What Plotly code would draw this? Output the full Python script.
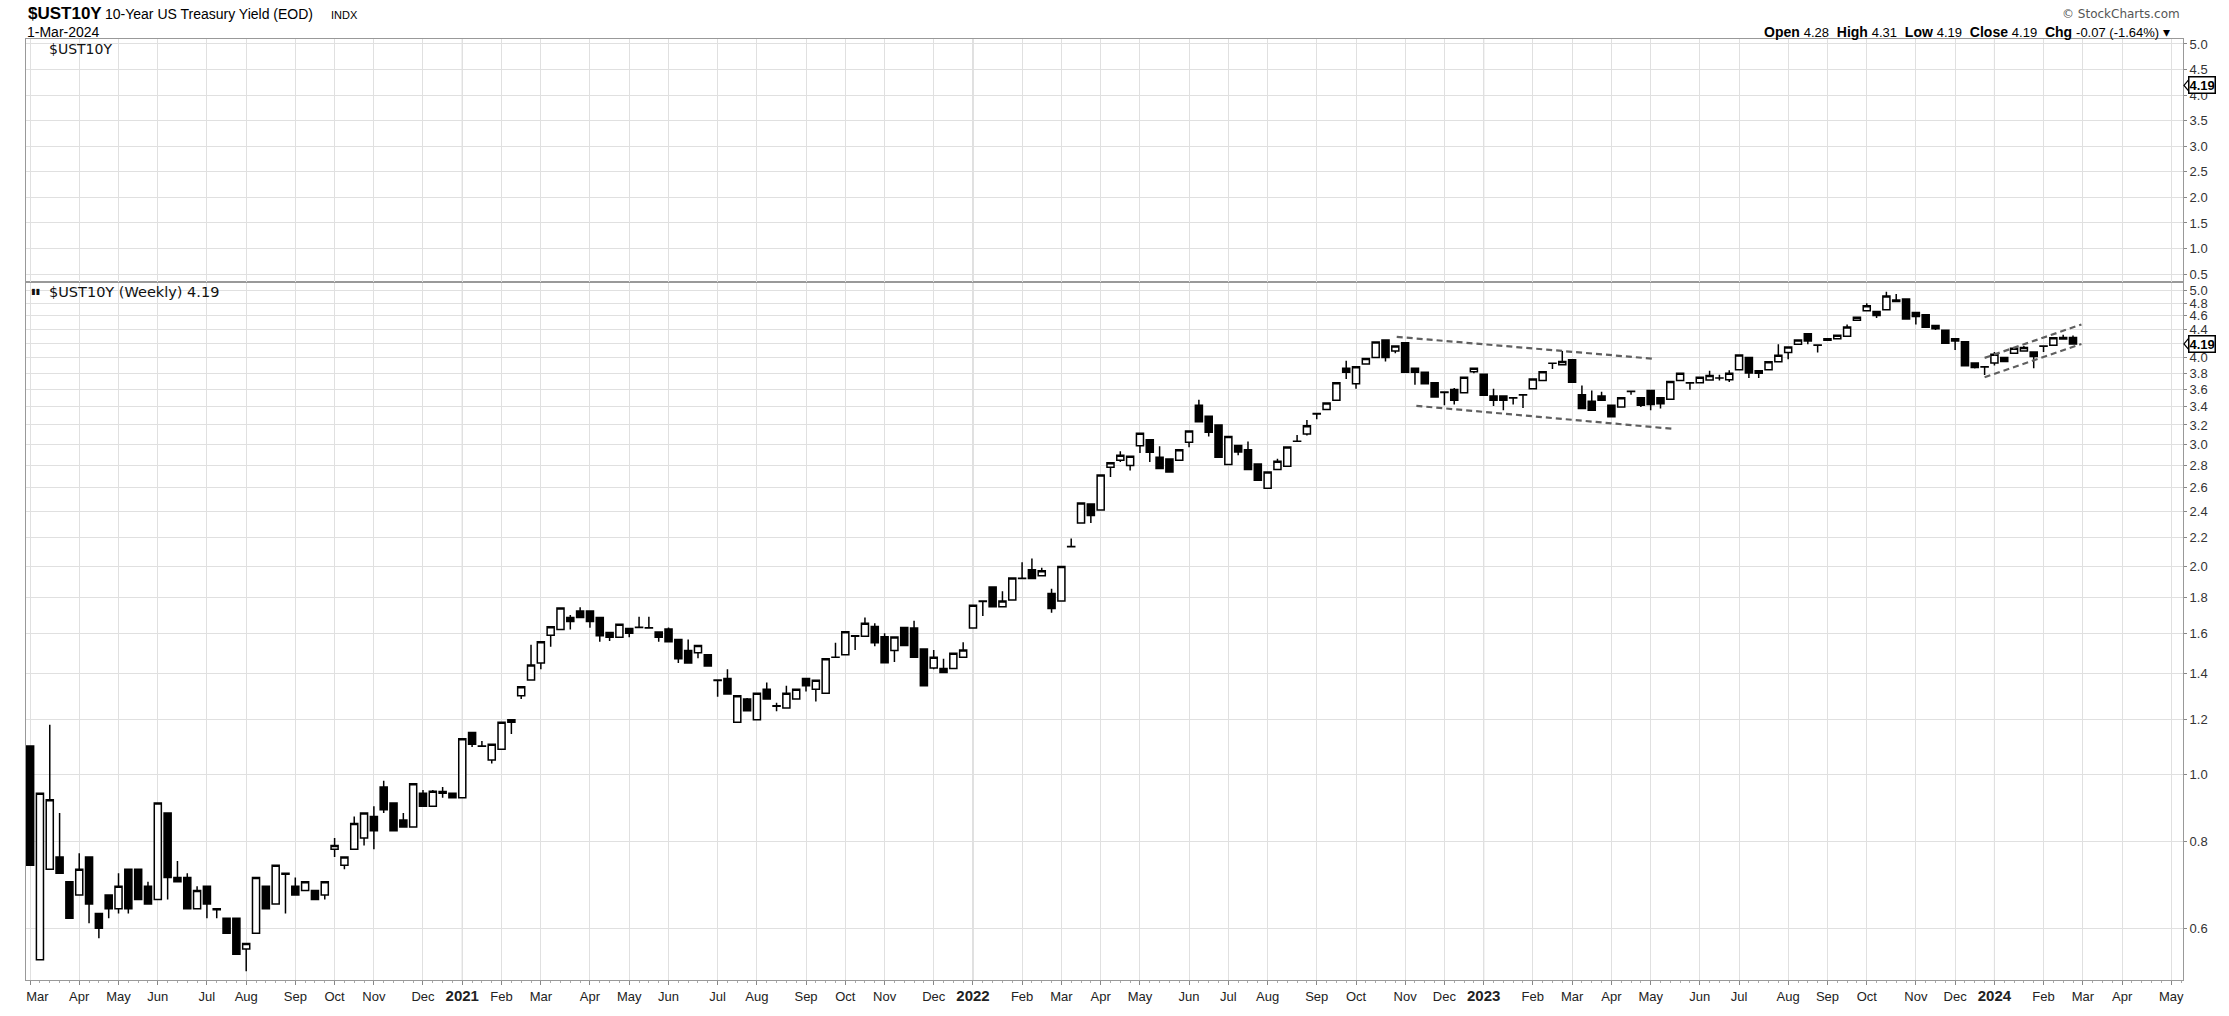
import math
import pandas as pd
import plotly.graph_objects as go

# ---------------- data ----------------
first_week = "2020-03-06"   # Friday of first weekly bar

opens = [1.10, 0.54, 0.73, 0.76, 0.70, 0.67, 0.76, 0.63, 0.67, 0.64,
         0.73, 0.73, 0.69, 0.66, 0.88, 0.71, 0.71, 0.64, 0.69, 0.64,
         0.62, 0.62, 0.56, 0.59, 0.69, 0.65, 0.72, 0.69, 0.68, 0.68,
         0.67, 0.78, 0.74, 0.78, 0.81, 0.87, 0.96, 0.91, 0.86, 0.84,
         0.94, 0.90, 0.945, 0.94, 0.926, 1.15, 1.10, 1.05, 1.088, 1.19,
         1.30, 1.37, 1.45, 1.59, 1.62, 1.686, 1.723, 1.723, 1.686, 1.605,
         1.579, 1.626, 1.631, 1.63, 1.607, 1.623, 1.567, 1.511, 1.50, 1.49,
         1.37, 1.377, 1.19, 1.286, 1.20, 1.328, 1.257, 1.248, 1.286, 1.377,
         1.328, 1.311, 1.478, 1.49, 1.587, 1.584, 1.637, 1.582, 1.511, 1.631,
         1.628, 1.519, 1.426, 1.423, 1.423, 1.478, 1.628, 1.781, 1.867, 1.748,
         1.787, 1.92, 1.976, 1.937, 1.826, 1.781, 2.134, 2.309, 2.46, 2.412,
         2.781, 2.846, 2.796, 2.986, 3.045, 2.874, 2.858, 2.846, 3.022, 3.416,
         3.295, 3.199, 2.805, 2.989, 2.947, 2.811, 2.593, 2.76, 2.79, 3.03,
         3.106, 3.324, 3.368, 3.473, 3.863, 3.669, 3.918, 4.005, 4.244, 4.093,
         4.207, 3.863, 3.812, 3.681, 3.57, 3.601, 3.562, 3.82, 3.787, 3.523,
         3.523, 3.504, 3.539, 3.609, 3.709, 3.93, 3.909, 3.974, 3.539, 3.462,
         3.523, 3.416, 3.398, 3.58, 3.504, 3.589, 3.504, 3.485, 3.709, 3.681,
         3.681, 3.717, 3.741, 3.72, 3.845, 4.005, 3.80, 3.845, 3.948, 4.071,
         4.184, 4.333, 4.175, 4.262, 4.262, 4.30, 4.532, 4.678, 4.668, 4.694,
         4.85, 4.866, 4.653, 4.617, 4.453, 4.386, 4.262, 4.221, 3.931, 3.884,
         3.931, 4.005, 4.062, 4.093, 4.08, 4.16, 4.17, 4.28, 4.28]

highs = [1.10, 0.94, 1.18, 0.88, 0.70, 0.77, 0.76, 0.63, 0.67, 0.72,
         0.73, 0.73, 0.70, 0.91, 0.88, 0.75, 0.72, 0.69, 0.69, 0.64,
         0.62, 0.62, 0.57, 0.71, 0.69, 0.74, 0.72, 0.71, 0.70, 0.68,
         0.70, 0.81, 0.76, 0.87, 0.88, 0.90, 0.98, 0.91, 0.88, 0.97,
         0.95, 0.95, 0.96, 0.94, 1.127, 1.15, 1.118, 1.106, 1.19, 1.20,
         1.34, 1.54, 1.556, 1.635, 1.74, 1.70, 1.745, 1.723, 1.686, 1.605,
         1.649, 1.626, 1.69, 1.69, 1.61, 1.631, 1.567, 1.567, 1.536, 1.49,
         1.37, 1.42, 1.30, 1.29, 1.311, 1.359, 1.27, 1.344, 1.328, 1.377,
         1.369, 1.47, 1.55, 1.608, 1.59, 1.686, 1.655, 1.60, 1.58, 1.631,
         1.668, 1.519, 1.514, 1.47, 1.498, 1.553, 1.756, 1.785, 1.867, 1.84,
         1.923, 2.027, 2.053, 1.99, 1.856, 1.998, 2.193, 2.468, 2.46, 2.709,
         2.821, 2.931, 2.883, 3.113, 3.05, 2.98, 2.858, 2.947, 3.137, 3.481,
         3.295, 3.199, 3.079, 2.99, 3.029, 2.811, 2.736, 2.86, 2.973, 3.096,
         3.252, 3.33, 3.443, 3.681, 3.961, 3.884, 3.991, 4.216, 4.244, 4.161,
         4.207, 3.863, 3.812, 3.681, 3.57, 3.62, 3.75, 3.863, 3.787, 3.609,
         3.523, 3.51, 3.545, 3.729, 3.82, 3.935, 4.093, 3.974, 3.648, 3.589,
         3.575, 3.416, 3.504, 3.585, 3.504, 3.589, 3.504, 3.697, 3.81, 3.685,
         3.75, 3.833, 3.78, 3.84, 4.04, 4.005, 3.833, 3.948, 4.184, 4.148,
         4.244, 4.333, 4.18, 4.262, 4.314, 4.468, 4.577, 4.797, 4.668, 4.985,
         4.947, 4.866, 4.653, 4.617, 4.453, 4.386, 4.262, 4.221, 3.931, 3.89,
         4.08, 4.01, 4.13, 4.16, 4.08, 4.165, 4.276, 4.32, 4.31]

lows = [0.74, 0.54, 0.73, 0.72, 0.62, 0.67, 0.61, 0.58, 0.62, 0.63,
        0.63, 0.66, 0.65, 0.66, 0.66, 0.70, 0.64, 0.64, 0.62, 0.62,
        0.59, 0.55, 0.52, 0.59, 0.64, 0.65, 0.63, 0.67, 0.68, 0.66,
        0.66, 0.76, 0.73, 0.78, 0.79, 0.78, 0.88, 0.83, 0.84, 0.84,
        0.90, 0.90, 0.926, 0.926, 0.926, 1.096, 1.097, 1.038, 1.088, 1.145,
        1.286, 1.37, 1.42, 1.53, 1.62, 1.62, 1.686, 1.63, 1.556, 1.56,
        1.579, 1.579, 1.63, 1.628, 1.556, 1.556, 1.449, 1.449, 1.473, 1.435,
        1.296, 1.308, 1.19, 1.237, 1.20, 1.286, 1.235, 1.248, 1.286, 1.318,
        1.275, 1.311, 1.475, 1.49, 1.514, 1.584, 1.533, 1.451, 1.455, 1.536,
        1.478, 1.344, 1.42, 1.404, 1.423, 1.478, 1.628, 1.695, 1.748, 1.748,
        1.787, 1.918, 1.92, 1.937, 1.714, 1.781, 2.13, 2.309, 2.309, 2.412,
        2.691, 2.83, 2.75, 2.915, 2.83, 2.769, 2.736, 2.846, 2.97, 3.235,
        3.079, 2.874, 2.805, 2.893, 2.76, 2.662, 2.593, 2.76, 2.79, 3.028,
        3.09, 3.26, 3.368, 3.473, 3.73, 3.609, 3.918, 4.005, 3.952, 4.062,
        3.812, 3.657, 3.669, 3.511, 3.416, 3.424, 3.562, 3.80, 3.531, 3.409,
        3.361, 3.424, 3.387, 3.609, 3.70, 3.854, 3.909, 3.689, 3.38, 3.361,
        3.473, 3.288, 3.398, 3.539, 3.398, 3.361, 3.38, 3.485, 3.70, 3.597,
        3.681, 3.717, 3.709, 3.69, 3.845, 3.741, 3.74, 3.845, 3.948, 3.983,
        4.184, 4.184, 4.071, 4.24, 4.262, 4.30, 4.532, 4.678, 4.567, 4.694,
        4.824, 4.552, 4.468, 4.429, 4.39, 4.198, 4.106, 3.896, 3.86, 3.779,
        3.90, 3.952, 4.062, 4.093, 3.863, 4.08, 4.17, 4.26, 4.19]

closes = [0.74, 0.94, 0.92, 0.72, 0.62, 0.73, 0.65, 0.60, 0.64, 0.69,
          0.64, 0.66, 0.65, 0.91, 0.71, 0.70, 0.64, 0.68, 0.65, 0.638,
          0.59, 0.55, 0.57, 0.71, 0.64, 0.74, 0.718, 0.67, 0.70, 0.66,
          0.70, 0.79, 0.76, 0.85, 0.88, 0.83, 0.89, 0.83, 0.84, 0.97,
          0.90, 0.946, 0.94, 0.926, 1.127, 1.106, 1.099, 1.106, 1.19, 1.20,
          1.34, 1.44, 1.556, 1.635, 1.74, 1.664, 1.686, 1.664, 1.587, 1.579,
          1.649, 1.60, 1.632, 1.629, 1.579, 1.556, 1.470, 1.449, 1.536, 1.435,
          1.368, 1.308, 1.30, 1.237, 1.311, 1.286, 1.255, 1.311, 1.328, 1.344,
          1.369, 1.47, 1.477, 1.608, 1.585, 1.655, 1.55, 1.451, 1.58, 1.536,
          1.478, 1.344, 1.478, 1.404, 1.498, 1.514, 1.756, 1.778, 1.748, 1.781,
          1.923, 1.921, 1.92, 1.97, 1.737, 1.998, 2.136, 2.468, 2.367, 2.709,
          2.821, 2.893, 2.883, 3.113, 2.921, 2.769, 2.736, 2.947, 3.137, 3.235,
          3.123, 2.874, 3.079, 2.924, 2.76, 2.662, 2.736, 2.837, 2.973, 3.031,
          3.192, 3.32, 3.443, 3.681, 3.812, 3.884, 3.991, 4.216, 4.005, 4.161,
          3.812, 3.812, 3.669, 3.511, 3.565, 3.473, 3.75, 3.863, 3.531, 3.473,
          3.473, 3.50, 3.535, 3.729, 3.82, 3.928, 3.952, 3.689, 3.38, 3.361,
          3.473, 3.288, 3.504, 3.578, 3.416, 3.424, 3.435, 3.697, 3.799, 3.678,
          3.75, 3.771, 3.74, 3.799, 4.04, 3.804, 3.833, 3.948, 4.035, 4.148,
          4.244, 4.23, 4.172, 4.24, 4.314, 4.434, 4.577, 4.756, 4.607, 4.914,
          4.824, 4.552, 4.592, 4.429, 4.405, 4.198, 4.23, 3.896, 3.875, 3.88,
          4.049, 3.952, 4.13, 4.14, 4.018, 4.158, 4.276, 4.26, 4.19]

# hand-drawn trend channels (date, yield)
chan1_upper_dates = ["2022-11-05", "2023-05-06"]
chan1_upper_vals = [4.29, 3.99]
chan1_lower_dates = ["2022-11-19", "2023-05-20"]
chan1_lower_vals = [3.41, 3.16]
chan2_upper_dates = ["2023-12-29", "2024-03-07"]
chan2_upper_vals = [4.00, 4.47]
chan2_lower_dates = ["2023-12-29", "2024-03-07"]
chan2_lower_vals = [3.75, 4.19]

upper_ticks = [0.5, 1.0, 1.5, 2.0, 2.5, 3.0, 3.5, 4.0, 4.5, 5.0]
lower_ticks = [0.6, 0.8, 1.0, 1.2, 1.4, 1.6, 1.8, 2.0, 2.2, 2.4, 2.6, 2.8,
               3.0, 3.2, 3.4, 3.6, 3.8, 4.0, 4.2, 4.4, 4.6, 4.8, 5.0]
month_abbr = ["Jan", "Feb", "Mar", "Apr", "May", "Jun", "Jul", "Aug",
              "Sep", "Oct", "Nov", "Dec"]
monday_holidays = ["2021-05-31"]
axis_weeks = 220   # weekly slots on the axis (data + blank space to May 2024)

# ---------------- derived ----------------
t0 = pd.Timestamp(first_week)
n = len(closes)
idx = list(range(n))
last = closes[-1]


def date_to_idx(d):
    return (pd.Timestamp(d) - t0).days / 7.0


hol = set(pd.to_datetime(monday_holidays))
tickvals, ticktext, year_idx = [], [], []
prev = None
for i in range(axis_weeks):
    day = t0 + pd.Timedelta(weeks=i) - pd.Timedelta(days=4)
    if day in hol:
        day = day + pd.Timedelta(days=1)
    key = (day.year, day.month)
    if key != prev:
        tickvals.append(i)
        if day.month == 1:
            ticktext.append(f"<b><span style='font-size:15px'>{day.year}</span></b>")
            year_idx.append(i)
        elif prev is None:
            ticktext.append("&nbsp;&nbsp;&nbsp;&nbsp;" + month_abbr[day.month - 1])
        else:
            ticktext.append(month_abbr[day.month - 1])
    prev = key

# lower-panel labels: the one hidden under the last-value tag is left blank
lower_text = ["" if abs(v - last) < 0.05 else f"{v:.1f}" for v in lower_ticks]

W, H = 2229, 1016
ML, MR, MT, MB = 24, 46, 39, 24
PW, PH = W - ML - MR, H - MT - MB


def px_x(px):
    return (px - ML) / PW


def px_y(py):
    return (H - MB - py) / PH


split = px_y(285)

GRID = "#e0e0e0"
FRAME = "#999999"
TICKFONT = dict(family="Liberation Sans, Arial, sans-serif", size=13, color="#333")

fig = go.Figure()

fig.add_trace(go.Scatter(
    x=[idx[-1]], y=[last], mode="markers", marker=dict(opacity=0),
    xaxis="x2", yaxis="y", showlegend=False, hoverinfo="skip"))

fig.add_trace(go.Candlestick(
    x=idx, open=opens, high=highs, low=lows, close=closes,
    xaxis="x", yaxis="y2", showlegend=False, whiskerwidth=0,
    increasing=dict(line=dict(color="black", width=1.5), fillcolor="white"),
    decreasing=dict(line=dict(color="black", width=1.5), fillcolor="black")))

for dts, vals in [(chan1_upper_dates, chan1_upper_vals),
                  (chan1_lower_dates, chan1_lower_vals),
                  (chan2_upper_dates, chan2_upper_vals),
                  (chan2_lower_dates, chan2_lower_vals)]:
    fig.add_trace(go.Scatter(
        x=[date_to_idx(d) for d in dts], y=vals, mode="lines",
        line=dict(color="#5f5f5f", width=2.2, dash="6px,4px"),
        xaxis="x", yaxis="y2", showlegend=False, hoverinfo="skip"))

xr = [-0.42, 219.2]
common_x = dict(range=xr, tickmode="array", tickvals=tickvals, showgrid=True,
                gridcolor=GRID, gridwidth=1, zeroline=False, showline=True,
                linecolor=FRAME, linewidth=1, mirror=True)

fig.update_layout(
    width=W, height=H, margin=dict(l=ML, r=MR, t=MT, b=MB),
    paper_bgcolor="white", plot_bgcolor="white", showlegend=False,
    hovermode=False, boxgap=0.28, boxgroupgap=0.0,
    xaxis=dict(**common_x, domain=[0, 1], anchor="y2", ticktext=ticktext,
               tickfont=dict(family="Liberation Sans, Arial, sans-serif", size=13, color="#222"),
               ticks="outside", ticklen=4, tickcolor="#888",
               rangeslider=dict(visible=False),
               minor=dict(tickmode="array", tickvals=list(range(axis_weeks)),
                          ticks="outside", ticklen=2, tickcolor="#aaa", showgrid=False)),
    xaxis2=dict(**common_x, domain=[0, 1], anchor="y", matches="x",
                showticklabels=False, ticks=""),
    yaxis=dict(domain=[split, 1], anchor="x2", side="right",
               range=[0.348, 5.097], tickmode="array", tickvals=upper_ticks,
               ticktext=[f"{v:.1f}" for v in upper_ticks], tickfont=TICKFONT,
               ticks="outside", ticklen=3, tickcolor="#888",
               showgrid=True, gridcolor=GRID, zeroline=False,
               showline=True, linecolor=FRAME, mirror=True),
    yaxis2=dict(domain=[0, split], anchor="x", side="right", type="log",
                range=[math.log10(0.505), math.log10(5.15)], tickmode="array",
                tickvals=lower_ticks, ticktext=lower_text,
                tickfont=TICKFONT, ticks="outside", ticklen=3, tickcolor="#888",
                showgrid=True, gridcolor=GRID, zeroline=False,
                showline=True, linecolor=FRAME, mirror=True),
)

# darker year separators
for yi in year_idx:
    fig.add_shape(type="line", xref="x", yref="paper", x0=yi, x1=yi, y0=0, y1=1,
                  line=dict(color="#c2c2c2", width=1), layer="below")

# header
ann = []
ann.append(dict(x=px_x(24), y=px_y(13), xref="paper", yref="paper", xanchor="left",
                yanchor="middle", showarrow=False, text="<b>$UST10Y</b>",
                font=dict(family="Liberation Sans, Arial", size=17, color="#000")))
ann.append(dict(x=px_x(101), y=px_y(14), xref="paper", yref="paper", xanchor="left",
                yanchor="middle", showarrow=False, text="10-Year US Treasury Yield (EOD)",
                font=dict(family="Liberation Sans, Arial", size=14, color="#000")))
ann.append(dict(x=px_x(327), y=px_y(15), xref="paper", yref="paper", xanchor="left",
                yanchor="middle", showarrow=False, text="INDX",
                font=dict(family="Liberation Sans, Arial", size=11, color="#000")))
ann.append(dict(x=px_x(23), y=px_y(32), xref="paper", yref="paper", xanchor="left",
                yanchor="middle", showarrow=False, text="1-Mar-2024",
                font=dict(family="Liberation Sans, Arial", size=14, color="#000")))
ann.append(dict(x=px_x(2182), y=px_y(14), xref="paper", yref="paper", xanchor="right",
                yanchor="middle", showarrow=False, text="© StockCharts.com",
                font=dict(family="DejaVu Sans, Verdana", size=12, color="#555")))

chg = closes[-1] - closes[-2]
pct = chg / closes[-2] * 100
vs = "<span style='font-size:13px'>"
ohlc_txt = (f"<b>Open</b> {vs}{opens[-1]:.2f}</span>  <b>High</b> {vs}{highs[-1]:.2f}</span>  "
            f"<b>Low</b> {vs}{lows[-1]:.2f}</span>  <b>Close</b> {vs}{closes[-1]:.2f}</span>  "
            f"<b>Chg</b> {vs}{chg:.2f} ({pct:.2f}%)</span> ▾")
ann.append(dict(x=px_x(2172), y=px_y(32), xref="paper", yref="paper", xanchor="right",
                yanchor="middle", showarrow=False, text=ohlc_txt,
                font=dict(family="Liberation Sans, Arial", size=14, color="#000")))

# panel labels
ann.append(dict(x=px_x(45), y=px_y(49), xref="paper", yref="paper", xanchor="left",
                yanchor="middle", showarrow=False, text="$UST10Y",
                font=dict(family="DejaVu Sans", size=14, color="#111")))
ann.append(dict(x=px_x(27), y=px_y(295), xref="paper", yref="paper", xanchor="left",
                yanchor="middle", showarrow=False, text="▮▮",
                font=dict(family="DejaVu Sans", size=8, color="#111")))
ann.append(dict(x=px_x(45), y=px_y(295), xref="paper", yref="paper", xanchor="left",
                yanchor="middle", showarrow=False,
                text=f"$UST10Y (Weekly) {last:.2f}",
                font=dict(family="DejaVu Sans", size=14.5, color="#111")))

# last value tags
ann.append(dict(x=1, y=last, xref="paper", yref="y", xanchor="left", xshift=5,
                yanchor="middle", showarrow=False, text=f"<b>{last:.2f}</b>",
                font=dict(family="Liberation Sans, Arial", size=13, color="#000"),
                bgcolor="white", bordercolor="#000", borderwidth=1.5, borderpad=0))
ann.append(dict(x=1, y=math.log10(last), xref="paper", yref="y2", xanchor="left",
                xshift=5, yanchor="middle", showarrow=False, text=f"<b>{last:.2f}</b>",
                font=dict(family="Liberation Sans, Arial", size=13, color="#000"),
                bgcolor="white", bordercolor="#000", borderwidth=1.5, borderpad=0))
fig.update_layout(annotations=ann)

for yref in ["y", "y2"]:
    fig.add_shape(type="path", xref="paper", yref=yref, xsizemode="pixel", ysizemode="pixel",
                  xanchor=1, yanchor=last, path="M 1,0 L 6,6 L 6,-6 Z",
                  fillcolor="white", line=dict(color="#000", width=1.2), layer="above")

fig.write_html("out.html", config={"displayModeBar": False},
               post_script="document.body.style.margin='0px';document.body.style.overflow='hidden';")
